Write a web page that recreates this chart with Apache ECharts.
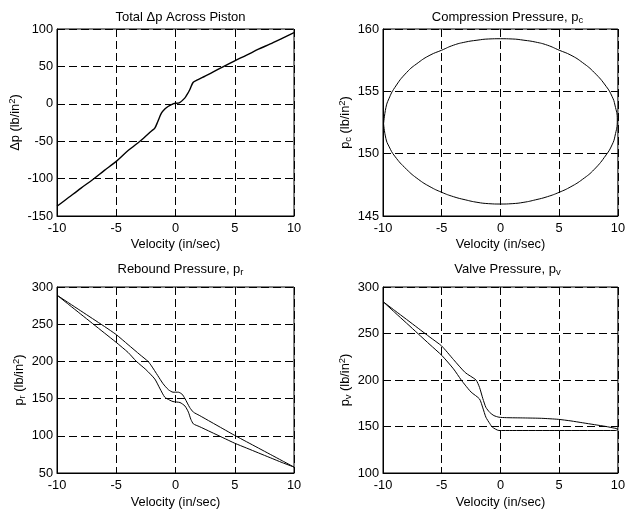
<!DOCTYPE html>
<html><head><meta charset="utf-8">
<script src="https://cdn.jsdelivr.net/npm/echarts@6/dist/echarts.min.js"></script>
<style>html,body{margin:0;padding:0;background:#fff}#c{width:628px;height:512px}</style>
</head><body><div id="c"></div>
<script>
// ---- data ----
const dpVel = [-10,-9,-8,-7,-6,-5,-4,-3,-2.7,-2,-1.76,-1.5,-1.19,-0.9,-0.63,-0.21,0.35,0.78,1.0,1.2,1.48,1.76,2.5,3,4,5,6,7,8,9,10];
const dpVal = [-137,-125,-113,-101.5,-89,-77,-62.5,-50,-46,-36,-33,-24,-12.5,-7,-3.6,0,1.7,7.6,13,18.7,28.5,31.2,37,41,49.5,57.5,65,73,80,87.5,95];

const pcVel = [-9.95,-9.75,-9.5,-9,-8,-7,-6,-5,-4,-3,-2,-1,0,1,2,3,4,5,6,7,8,9,9.5,9.75,9.95,9.75,9.5,9,8,7,6,5,4,3,2,1,0,-1,-2,-3,-4,-5,-6,-7,-8,-9,-9.5,-9.75,-9.95];
const pcVal = [152.4,153.7,154.4,155.3,156.5,157.3,157.9,158.3,158.7,158.95,159.1,159.2,159.22,159.2,159.1,158.95,158.7,158.3,157.9,157.3,156.5,155.4,154.6,153.9,152.7,151.4,150.7,149.9,148.75,147.95,147.35,146.9,146.55,146.3,146.1,145.99,145.96,145.99,146.1,146.3,146.55,146.9,147.35,147.95,148.75,149.8,150.6,151.2,152.4];

const prUpVel = [-10,-9,-8,-7,-6,-5,-4,-3,-2.32,-2.03,-1.5,-1.05,-0.6,-0.21,0.24,0.55,0.8,1.2,1.51,2,3,4,5,6,7,8,9,10];
const prUpVal = [289,278.5,268,257.5,247,236,222.5,209,200,194,181,170,162,158.6,158.6,156,150,138,131.8,127.5,118.5,109.5,100.5,92,83.5,75,66.5,58];
const prLoVel = [-10,-9,-8,-7,-6,-5,-4,-3.3,-2.5,-1.75,-1.3,-0.91,-0.5,-0.21,0.38,0.8,1.09,1.3,1.51,2,3,4,5,6,7,8,9,10];
const prLoVal = [289,276.3,263.6,250.9,238.2,225.5,212,200,189,176.4,163,152,148,146,144.7,140,131.8,122,116,112.5,105,97.5,90,83.5,77,70.5,64,58];

const pvUpVel = [-10,-9,-8,-7,-6,-5,-4,-3,-2.08,-1.78,-1.5,-1.24,-0.9,-0.55,-0.13,0.5,2,3.5,4.93,6,7,8,9,10];
const pvUpVal = [284.3,274.7,265.2,255.6,246,236.5,222,208,200,192,180,170.6,165,161.7,160,159.5,159.2,158.8,157.7,156,154,152,150,147.5];
const pvLoVel = [-10,-9,-8,-7,-6,-5,-4,-3.34,-3,-2.5,-1.78,-1.5,-1.24,-0.9,-0.69,-0.13,1,5,9.83,10];
const pvLoVal = [284.3,272.7,261.2,249.6,238,226.5,212,200,194.5,187,179.6,170,160,153,149.3,145.7,145.7,145.7,145.7,147];

const xRange = [-10, 10, 5];
const yRanges = [[-150, 100, 50], [145, 160, 5], [50, 300, 50], [100, 300, 50]];
const titles = ['Total \u0394p Across Piston', 'Compression Pressure, p{s|c}', 'Rebound Pressure, p{s|r}', 'Valve Pressure, p{s|v}'];
const yNames = ['\u0394p (lb/in{u|2})', 'p{s|c} (lb/in{u|2})', 'p{s|r} (lb/in{u|2})', 'p{s|v} (lb/in{u|2})'];
const xName = 'Velocity (in/sec)';

// ---- chart ----
const FONT = 'Liberation Sans, Arial, sans-serif';
const FS = 12.8;
const zip = (a, b) => a.map((v, i) => [v, b[i]]);
const grids = [
  {left: 57, top: 29, width: 237, height: 187},
  {left: 383, top: 29, width: 239, height: 187},
  {left: 57, top: 287, width: 237, height: 186},
  {left: 383, top: 287, width: 239, height: 186}
];
const rich = {
  s: {fontSize: 9.5, verticalAlign: 'bottom', lineHeight: 9, fontFamily: FONT, color: '#000'},
  u: {fontSize: 9.5, verticalAlign: 'top', lineHeight: 9, fontFamily: FONT, color: '#000'}
};
const dash = {show: true, lineStyle: {color: '#000', type: [8, 4], width: 1}};
const option = {
  backgroundColor: '#fff',
  animation: false,
  textStyle: {fontFamily: FONT, color: '#000'},
  title: grids.map((g, i) => ({
    text: titles[i], left: g.left + g.width / 2, top: i < 2 ? 4 : 256, textAlign: 'center',
    textStyle: {fontSize: 13, fontWeight: 'normal', color: '#000', fontFamily: FONT, lineHeight: 16, rich: rich}
  })),
  grid: grids.map(g => Object.assign({show: true, borderColor: '#000', borderWidth: 1, backgroundColor: '#fff'}, g)),
  xAxis: grids.map((g, i) => ({
    type: 'value', gridIndex: i, min: xRange[0], max: xRange[1], interval: xRange[2],
    name: xName, nameLocation: 'middle', nameGap: i < 2 ? 22 : 23,
    nameTextStyle: {fontSize: FS, color: '#000', fontFamily: FONT},
    axisLine: {show: true, onZero: false, lineStyle: {color: '#000', width: 1}},
    axisTick: {show: false},
    axisLabel: {fontSize: FS, color: '#000', margin: 6, fontFamily: FONT},
    splitLine: dash
  })),
  yAxis: grids.map((g, i) => ({
    type: 'value', gridIndex: i, min: yRanges[i][0], max: yRanges[i][1], interval: yRanges[i][2],
    name: yNames[i], nameLocation: 'middle', nameGap: i === 0 ? 29 : 25,
    nameTextStyle: {fontSize: FS, color: '#000', fontFamily: FONT, lineHeight: 16, rich: rich},
    axisLine: {show: true, onZero: false, lineStyle: {color: '#000', width: 1}},
    axisTick: {show: false},
    axisLabel: {fontSize: FS, color: '#000', margin: 4, fontFamily: FONT},
    splitLine: dash
  })),
  series: [
    {type: 'line', xAxisIndex: 0, yAxisIndex: 0, data: zip(dpVel, dpVal), smooth: 0.3},
    {type: 'line', xAxisIndex: 1, yAxisIndex: 1, data: zip(pcVel, pcVal), smooth: 0.5},
    {type: 'line', xAxisIndex: 2, yAxisIndex: 2, data: zip(prUpVel, prUpVal), smooth: 0.2},
    {type: 'line', xAxisIndex: 2, yAxisIndex: 2, data: zip(prLoVel, prLoVal), smooth: 0.2},
    {type: 'line', xAxisIndex: 3, yAxisIndex: 3, data: zip(pvUpVel, pvUpVal), smooth: 0.2},
    {type: 'line', xAxisIndex: 3, yAxisIndex: 3, data: zip(pvLoVel, pvLoVal), smooth: 0.2}
  ].map((s, i) => Object.assign(s, {showSymbol: false, silent: true, clip: true,
      lineStyle: {color: '#000', width: i === 0 ? 1.4 : 1}}))
};
const chart = echarts.init(document.getElementById('c'), null, {renderer: 'canvas'});
chart.setOption(option);
</script>
</body></html>
